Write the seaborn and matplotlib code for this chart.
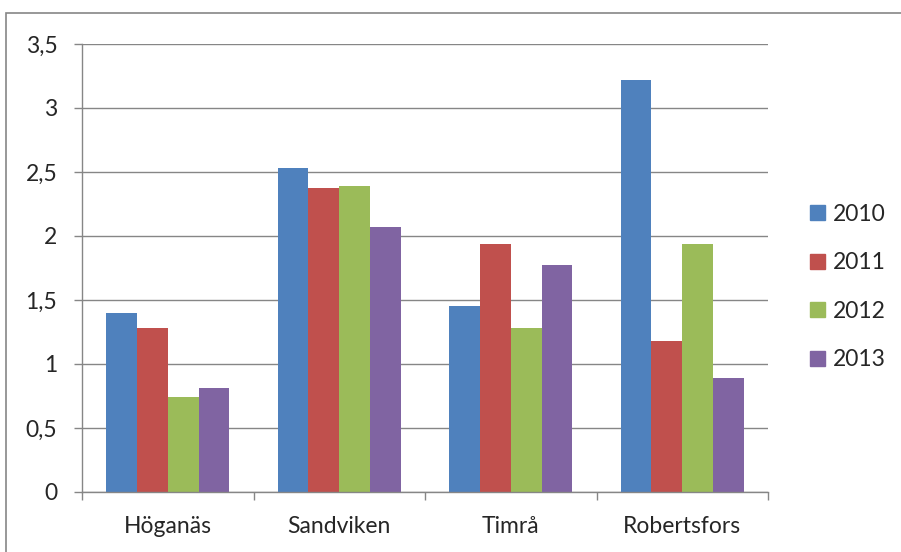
import numpy as np
import pandas as pd
import matplotlib
matplotlib.use("Agg")
import matplotlib.pyplot as plt
import matplotlib.patches as mpatches
from matplotlib.ticker import FuncFormatter, FixedLocator
import seaborn as sns

# data
places = ["Höganäs", "Sandviken", "Timrå", "Robertsfors"]
years = ["2010", "2011", "2012", "2013"]
v2010 = [1.40, 2.53, 1.45, 3.22]
v2011 = [1.28, 2.375, 1.94, 1.18]
v2012 = [0.74, 2.39, 1.28, 1.94]
v2013 = [0.81, 2.07, 1.77, 0.89]
colors = ["#4F81BD", "#C0504D", "#9BBB59", "#8064A2"]

rows = []
for yr, vals in zip(years, [v2010, v2011, v2012, v2013]):
    for p, v in zip(places, vals):
        rows.append({"place": p, "year": yr, "value": v})
df = pd.DataFrame(rows)

sns.set_style("white")
plt.rcParams['font.family'] = ['Lato', 'DejaVu Sans']
fs = 16.5

fig = plt.figure(figsize=(9.01, 5.52), dpi=100)
ax = fig.add_axes([82/901, 1-492/552, (768-82)/901, (492-44)/552])

sns.barplot(data=df, x="place", y="value", hue="year", order=places,
            hue_order=years, palette=colors, width=0.72, linewidth=0,
            saturation=1, ax=ax)

gray = "#868686"
ax.set_ylim(0, 3.5)
ax.set_xlim(-0.5, 3.5)
ax.set_yticks(np.arange(0, 3.51, 0.5))
ax.yaxis.set_major_formatter(FuncFormatter(lambda v, p: f"{v:g}".replace(".", ",")))
ax.grid(axis="y", color=gray, linewidth=1)
ax.set_axisbelow(True)
for s in ["top", "right"]:
    ax.spines[s].set_visible(False)
for s in ["left", "bottom"]:
    ax.spines[s].set_color(gray)
    ax.spines[s].set_linewidth(1)

ax.tick_params(axis="y", length=5.8, color=gray, width=1, pad=12, labelsize=fs, left=True)
ax.tick_params(axis="x", which="major", length=0, pad=17, labelsize=fs)
ax.xaxis.set_minor_locator(FixedLocator(np.arange(-0.5, 3.6, 1)))
ax.tick_params(axis="x", which="minor", length=5.8, color=gray, width=1, bottom=True)
ax.set_xlabel("")
ax.set_ylabel("")

handles = [mpatches.Patch(color=c, label=y) for c, y in zip(colors, years)]
ax.get_legend().remove()
fig.legend(handles=handles, loc="center left", bbox_to_anchor=(810/901, 1-287/552),
           frameon=False, fontsize=fs, handlelength=0.65, handleheight=0.65,
           handletextpad=0.35, labelspacing=1.2, borderpad=0, borderaxespad=0)

# outer chart border
fig.patches.append(mpatches.Rectangle((6/901, -0.1), 1.2, 1.1 - 13/552,
                                      transform=fig.transFigure, fill=False,
                                      edgecolor=gray, linewidth=1.2))

fig.savefig("out.png", dpi=100)
